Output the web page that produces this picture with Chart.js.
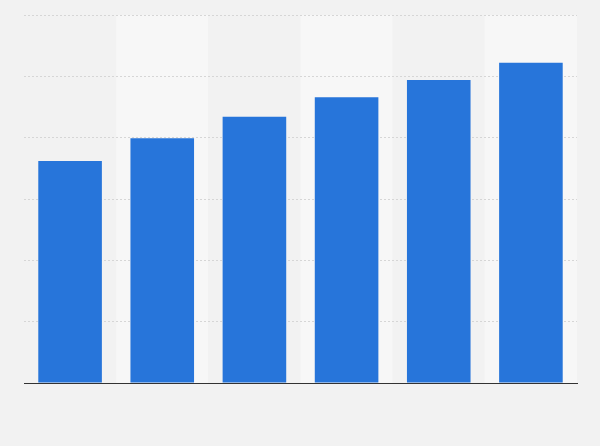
<!DOCTYPE html>
<html>
<head>
<meta charset="utf-8">
<script src="https://cdn.jsdelivr.net/npm/chart.js@4"></script>
<style>
    html, body { margin: 0; padding: 0; background: #f2f2f2; }
    #wrap { width: 600px; height: 446px; }
</style>
</head>
<body>
<div id="wrap"><canvas id="barChart" width="600" height="446"></canvas></div>
<script>
// Data (no labels shown in the reference)
const categories = ['1', '2', '3', '4', '5', '6'];
const values = [36.2, 39.9, 43.4, 46.6, 49.4, 52.2];
const yTicks = [0, 10, 20, 30, 40, 50, 60];

// Alternating column shading behind the bars
const columnBands = {
    id: 'columnBands',
    beforeDraw(chart) {
        const { ctx, chartArea, scales } = chart;
        const x = scales.x;
        const step = x.width / categories.length;
        ctx.save();
        categories.forEach((c, i) => {
            const left = x.getPixelForValue(i) - step / 2;
            ctx.fillStyle = i % 2 === 1 ? '#f7f7f7' : '#f2f2f2';
            ctx.fillRect(left, chartArea.top, step, chartArea.bottom - chartArea.top);
        });
        ctx.restore();
    }
};

function createBarChart() {
    const ctx = document.getElementById('barChart').getContext('2d');
    new Chart(ctx, {
        type: 'bar',
        data: {
            labels: categories,
            datasets: [{
                data: values,
                backgroundColor: '#2775da',
                barPercentage: 0.69,
                categoryPercentage: 1
            }]
        },
        options: {
            responsive: false,
            animation: false,
            layout: { padding: { left: 24, right: 23, top: 15, bottom: 63 } },
            plugins: { legend: { display: false }, tooltip: { enabled: false } },
            scales: {
                x: {
                    ticks: { display: false },
                    grid: { display: false, drawTicks: false },
                    border: { display: true, color: '#333333', width: 1 }
                },
                y: {
                    min: yTicks[0],
                    max: yTicks[yTicks.length - 1],
                    ticks: { display: false, stepSize: 10 },
                    grid: { color: '#d6d6d6', drawTicks: false, lineWidth: 1 },
                    border: { display: false, dash: [2, 2] }
                }
            }
        },
        plugins: [columnBands]
    });
}

createBarChart();
</script>
</body>
</html>
